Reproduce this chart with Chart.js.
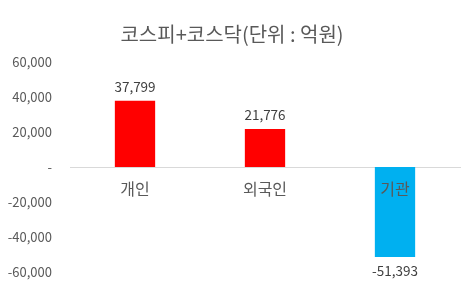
<!DOCTYPE html>
<html>
<head>
<meta charset="utf-8">
<script src="https://cdn.jsdelivr.net/npm/chart.js@4"></script>
<style>
  html, body { margin: 0; padding: 0; background: #fff; }
  #wrap { width: 466px; height: 286px; }
</style>
</head>
<body>
<div id="wrap"><canvas id="c"></canvas></div>
<script>
// 코스피+코스닥 투자자별 순매수 (억원)
const categories = ['개인', '외국인', '기관'];
const netBuy = [37799, 21776, -51393];
const barColors = ['#FF0000', '#FF0000', '#00B0F0'];
const yTicks = [-60000, -40000, -20000, 0, 20000, 40000, 60000];

const FONT = "'Noto Sans CJK KR', 'Noto Sans', sans-serif";
const fmt = v => v === 0 ? '-' : v.toLocaleString('en-US');

// value labels above / below bars
const valueLabels = {
    id: 'valueLabels',
    afterDatasetsDraw: (chart) => {
        const ctx = chart.ctx;
        const meta = chart.getDatasetMeta(0);
        ctx.save();
        ctx.fillStyle = '#404040';
        ctx.font = '13.5px ' + FONT;
        ctx.textAlign = 'center';
        meta.data.forEach((bar, i) => {
            const v = netBuy[i];
            if (v >= 0) {
                ctx.textBaseline = 'bottom';
                ctx.fillText(fmt(v), bar.x, bar.y - 7);
            } else {
                ctx.textBaseline = 'top';
                ctx.fillText(fmt(v), bar.x, bar.y + 7);
            }
        });
        ctx.restore();
    }
};

new Chart(document.getElementById('c'), {
    type: 'bar',
    data: {
        labels: categories,
        datasets: [{
            data: netBuy,
            backgroundColor: barColors,
            borderWidth: 0,
            categoryPercentage: 1,
            barPercentage: 0.31
        }]
    },
    options: {
        responsive: true, maintainAspectRatio: false, animation: false,
        layout: { padding: { top: 0, bottom: 14, left: 4, right: 6 } },
        plugins: {
            legend: { display: false },
            tooltip: { enabled: false },
            title: {
                display: true,
                text: '코스피+코스닥(단위 : 억원)',
                color: '#595959',
                font: { family: FONT, size: 20, weight: 'normal' },
                padding: { top: 22, bottom: 16 }
            }
        },
        scales: {
            x: {
                position: { y: 0 },
                grid: { display: false, drawTicks: false },
                border: { display: true, color: '#D9D9D9', width: 1 },
                ticks: { z: 1, color: '#595959', font: { family: FONT, size: 16 }, padding: 12 }
            },
            y: {
                min: -60000, max: 60000,
                afterBuildTicks: (axis) => { axis.ticks = yTicks.map(v => ({ value: v })); },
                afterFit: (axis) => { axis.width = 66; },
                grid: { display: false, drawTicks: true, tickLength: 18 },
                border: { display: false },
                ticks: {
                    color: '#595959', font: { family: FONT, size: 13 }, padding: 0,
                    callback: (v) => fmt(v)
                }
            }
        }
    },
    plugins: [valueLabels]
});
</script>
</body>
</html>
